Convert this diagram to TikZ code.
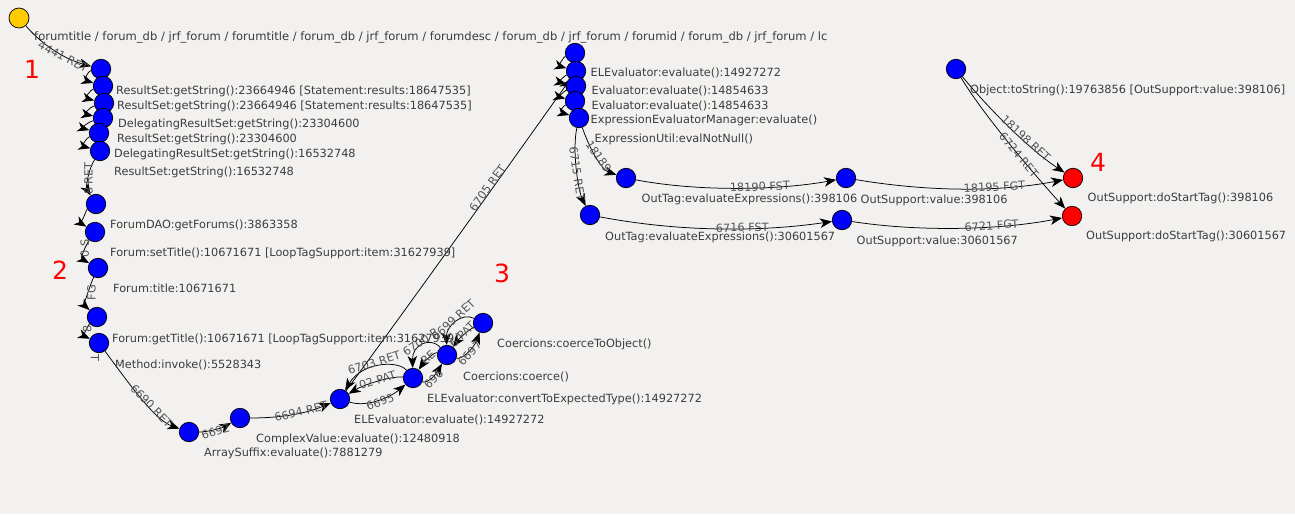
\documentclass[tikz,border=0pt]{standalone}
\usepackage{fontspec}
\setmainfont{DejaVu Sans}
\usetikzlibrary{arrows.meta}
\definecolor{bgc}{RGB}{242,241,240}
\definecolor{nblue}{RGB}{0,0,255}
\definecolor{nred}{RGB}{255,0,0}
\definecolor{nyellow}{RGB}{255,204,0}
\definecolor{txtc}{RGB}{60,60,60}
\definecolor{labc}{RGB}{85,85,85}
\pgfdeclarelayer{back}
\pgfdeclarelayer{edges}
\pgfsetlayers{back,edges,main}
\begin{document}
\begin{tikzpicture}[x=1pt,y=-1pt,
  vtx/.style={circle,draw=black,line width=0.7pt,minimum size=19.5pt,inner sep=0pt},
  bluev/.style={vtx,fill=nblue},
  redv/.style={vtx,fill=nred},
  yelv/.style={vtx,fill=nyellow,minimum size=20pt},
  txt/.style={anchor=base west,inner sep=0pt,text=txtc,font=\fontsize{11.3}{13}\selectfont},
  num/.style={text=nred,inner sep=0pt,font=\fontsize{25}{28}\selectfont},
  edge/.style={draw=black,line width=0.75pt,-{Stealth[length=12pt,width=9.5pt,inset=3.5pt]}},
  elab/.style={sloped,inner sep=0.5pt,text=labc,font=\fontsize{11.3}{13}\selectfont},
  vlab/.style={inner sep=0pt,text=labc,font=\fontsize{11.3}{13}\selectfont}]
\begin{pgfonlayer}{back}
\fill[bgc] (0,0) rectangle (1295,514);
\end{pgfonlayer}
\useasboundingbox (0,0) rectangle (1295,514);

% nodes
\node[yelv] (y0) at (19,18) {};
\node[bluev] (a1) at (101,69) {};
\node[bluev] (a2) at (103,86) {};
\node[bluev] (a3) at (104,103) {};
\node[bluev] (a4) at (103,118) {};
\node[bluev] (a5) at (99,133) {};
\node[bluev] (a6) at (100,151) {};
\node[bluev] (b1) at (96,204) {};
\node[bluev] (b2) at (95,232) {};
\node[bluev] (b3) at (98,268) {};
\node[bluev] (b4) at (97,317) {};
\node[bluev] (b5) at (99,343) {};
\node[bluev] (c1) at (189,432) {};
\node[bluev] (c2) at (240,418) {};
\node[bluev] (c3) at (340,399) {};
\node[bluev] (c4) at (413,378) {};
\node[bluev] (c5) at (447,355) {};
\node[bluev] (c6) at (483,323) {};
\node[bluev] (d1) at (575,53) {};
\node[bluev] (d2) at (576,71) {};
\node[bluev] (d3) at (576,86) {};
\node[bluev] (d4) at (575,101) {};
\node[bluev] (d5) at (579,118) {};
\node[bluev] (e1) at (626,178) {};
\node[bluev] (e2) at (590,215) {};
\node[bluev] (f1) at (846,178) {};
\node[bluev] (f2) at (842,220) {};
\node[bluev] (g) at (956,69) {};
\node[redv] (r1) at (1073,178) {};
\node[redv] (r2) at (1072,216) {};

% texts
\node[txt,font=\fontsize{11.55}{13}\selectfont] (t0) at (34,40.5) {forumtitle / forum\_db / jrf\_forum / forumtitle / forum\_db / jrf\_forum / forumdesc / forum\_db / jrf\_forum / forumid / forum\_db / jrf\_forum / lc};
\node[txt] (t1) at (116,94) {ResultSet:getString():23664946 [Statement:results:18647535]};
\node[txt] (t2) at (117,109) {ResultSet:getString():23664946 [Statement:results:18647535]};
\node[txt] (t3) at (118,127) {DelegatingResultSet:getString():23304600};
\node[txt] (t4) at (117,142) {ResultSet:getString():23304600};
\node[txt] (t5) at (114,157) {DelegatingResultSet:getString():16532748};
\node[txt] (t6) at (114,175) {ResultSet:getString():16532748};
\node[txt] (t7) at (110,228) {ForumDAO:getForums():3863358};
\node[txt] (t8) at (110,256.5) {Forum:setTitle():10671671 [LoopTagSupport:item:31627939]};
\node[txt] (t9) at (113,292) {Forum:title:10671671};
\node[txt] (t10) at (112,342) {Forum:getTitle():10671671 [LoopTagSupport:item:31627939]};
\node[txt] (t11) at (115,368) {Method:invoke():5528343};
\node[txt] (t12) at (204,456) {ArraySuffix:evaluate():7881279};
\node[txt] (t13) at (256,442) {ComplexValue:evaluate():12480918};
\node[txt] (t14) at (354,423.5) {ELEvaluator:evaluate():14927272};
\node[txt] (t15) at (427,402) {ELEvaluator:convertToExpectedType():14927272};
\node[txt] (t16) at (463,380) {Coercions:coerce()};
\node[txt] (t17) at (497,347) {Coercions:coerceToObject()};
\node[txt] (t18) at (590.5,76.5) {ELEvaluator:evaluate():14927272};
\node[txt] (t19) at (591.5,94.5) {Evaluator:evaluate():14854633};
\node[txt] (t20) at (591.5,109.5) {Evaluator:evaluate():14854633};
\node[txt] (t21) at (590.5,123.5) {ExpressionEvaluatorManager:evaluate()};
\node[txt] (t22) at (594.5,142) {ExpressionUtil:evalNotNull()};
\node[txt] (t23) at (641.5,202) {OutTag:evaluateExpressions():398106};
\node[txt] (t24) at (860.5,203) {OutSupport:value:398106};
\node[txt] (t25) at (605,240) {OutTag:evaluateExpressions():30601567};
\node[txt] (t26) at (856.5,244) {OutSupport:value:30601567};
\node[txt] (t27) at (970,93) {Object:toString():19763856 [OutSupport:value:398106]};
\node[txt] (t28) at (1087.5,201.5) {OutSupport:doStartTag():398106};
\node[txt] (t29) at (1086,239.5) {OutSupport:doStartTag():30601567};

\node[num] (n1) at (32,69) {1};
\node[num] (n2) at (60,270) {2};
\node[num] (n3) at (502,273) {3};
\node[num] (n4) at (1098,162) {4};

\begin{pgfonlayer}{edges}
\draw[edge] (y0) .. controls (45,48) and (68,60) .. node[elab,pos=0.6,anchor=north,yshift=4pt] {4441 RET} (a1);
\draw[edge] (a1) .. controls (88,71) and (84,80) .. (a2);
\draw[edge] (a2) .. controls (90,90) and (85,98) .. (a3);
\draw[edge] (a3) .. controls (90,107) and (84,114) .. (a4);
\draw[edge] (a4) .. controls (88,122) and (82,128) .. (a5);
\draw[edge] (a5) .. controls (86,138) and (82,146) .. (a6);
\draw[edge] (a6) .. controls (88,170) and (86,188) .. node[vlab,pos=0.5,rotate=90] {8 RET} (b1);
\draw[edge] (b1) .. controls (86,210) and (82,224) .. (b2);
\draw[edge] (b2) .. controls (86,245) and (80,258) .. node[vlab,pos=0.45,rotate=90,xshift=2pt] {0 S} (b3);
\draw[edge] (b3) .. controls (90,285) and (84,305) .. node[vlab,pos=0.45,rotate=90,yshift=-3pt] {FG} (b4);
\draw[edge] (b4) .. controls (88,325) and (84,336) .. node[vlab,pos=0.4,rotate=90] {8} (b5);
\node[vlab,rotate=-90] (lt) at (95,358) {T};
\draw[edge] (b5) .. controls (130,385) and (155,420) .. node[elab,pos=0.6,anchor=south,yshift=-3pt] {6690 RET} (c1);
\draw[edge] (c1) .. controls (208,432) and (222,428) .. node[elab,pos=0.5,anchor=north,yshift=3pt] {6692} (c2);
\draw[edge] (c2) .. controls (280,418) and (305,414) .. node[elab,pos=0.62,anchor=south,yshift=-4pt] {6694 RET} (c3);
\draw[edge] (c3) .. controls (368,408) and (392,396) .. node[elab,pos=0.5,anchor=north,yshift=3pt] {6695} (c4);
\draw[edge] (c4) .. controls (392,376) and (365,384) .. node[elab,pos=0.5,anchor=south,yshift=-4pt] {02 PAT} (c3);
\draw[edge] (c4) .. controls (398,360) and (362,362) .. node[elab,pos=0.55,anchor=south,yshift=-1pt] {6703 RET} (c3);
\draw[edge] (c3) .. controls (420,290) and (520,150) .. node[elab,pos=0.6,anchor=south,yshift=-1pt] {6705 RET} (d2);
\draw[edge] (c4) .. controls (428,384) and (436,374) .. node[elab,pos=0.5,anchor=north,yshift=3pt] {696} (c5);
\draw[edge] (c5) .. controls (434,352) and (424,362) .. node[elab,pos=0.5,anchor=south,yshift=-4pt] {RE} (c4);
\draw[edge] (c5) .. controls (430,336) and (412,345) .. node[elab,pos=0.5,anchor=south,yshift=-2pt] {6700 R} (c4);
\draw[edge] (c5) .. controls (462,360) and (474,348) .. node[elab,pos=0.5,anchor=north,yshift=3pt] {6697} (c6);
\draw[edge] (c6) .. controls (468,330) and (458,340) .. node[elab,pos=0.5,anchor=south,yshift=-4pt] {6 PAT} (c5);
\draw[edge] (c6) .. controls (462,312) and (446,326) .. node[elab,pos=0.5,anchor=south,yshift=-2pt] {6699 RET} (c5);
\draw[edge] (d1) .. controls (563,57) and (559,66) .. (d2);
\draw[edge] (d2) .. controls (564,76) and (559,82) .. (d3);
\draw[edge] (d3) .. controls (564,91) and (559,97) .. (d4);
\draw[edge] (d4) .. controls (563,106) and (559,112) .. (d5);
\draw[edge] (d5) .. controls (572,150) and (578,190) .. node[elab,pos=0.55,anchor=center] {6715 RET} (e2);
\draw[edge] (d5) .. controls (590,150) and (602,170) .. node[elab,pos=0.5,anchor=south,yshift=-3pt] {18189} (e1);
\draw[edge] (e1) .. controls (700,192) and (780,190) .. node[elab,pos=0.6,anchor=south,yshift=-4pt] {18190 FST} (f1);
\draw[edge] (e2) .. controls (680,232) and (760,232) .. node[elab,pos=0.6,anchor=south,yshift=-4pt] {6716 FST} (f2);
\draw[edge] (f1) .. controls (930,192) and (1000,192) .. node[elab,pos=0.65,anchor=south,yshift=-4pt] {18195 FGT} (r1);
\draw[edge] (f2) .. controls (920,232) and (1000,230) .. node[elab,pos=0.65,anchor=south,yshift=-4pt] {6721 FGT} (r2);
\draw[edge] (g) .. controls (990,110) and (1030,150) .. node[elab,pos=0.62,anchor=south,yshift=-2pt] {18198 RET} (r1);
\draw[edge] (g) .. controls (980,110) and (1030,170) .. node[elab,pos=0.6,anchor=center] {6724 RET} (r2);
\end{pgfonlayer}
\end{tikzpicture}
\end{document}
